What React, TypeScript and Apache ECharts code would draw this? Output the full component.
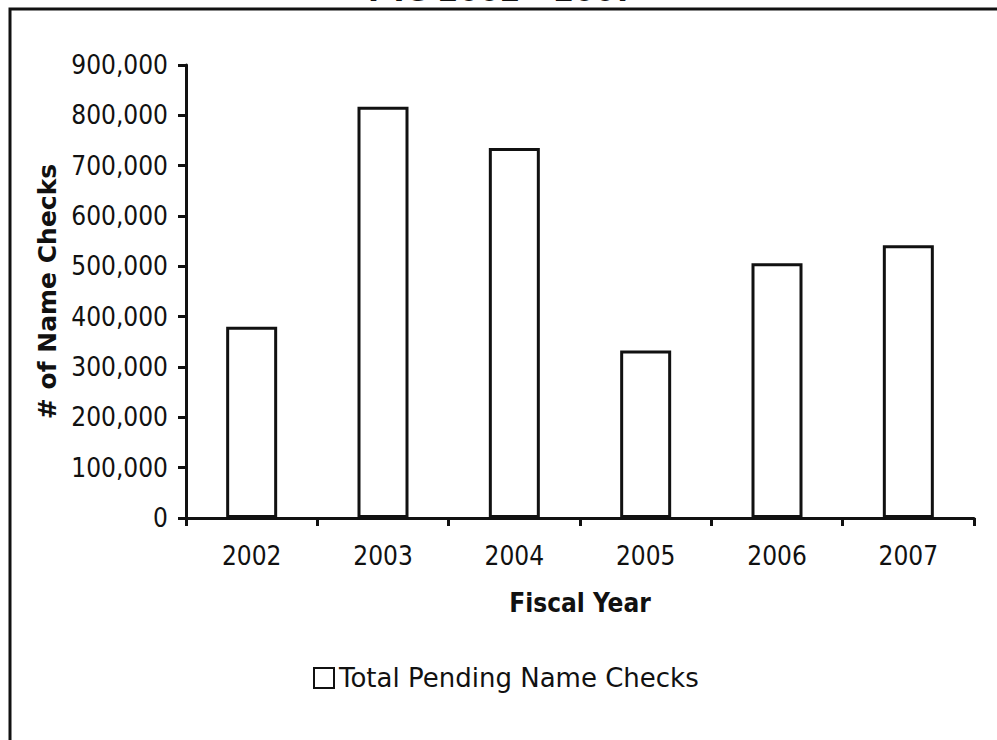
import React, { useEffect, useRef } from "react";
import * as echarts from "echarts";

// Fiscal years and pending name-check totals
const years = ["2002", "2003", "2004", "2005", "2006", "2007"];
const pendingChecks = [380000, 817000, 735000, 333000, 506000, 542000];

const yMax = 900000;
const yStep = 100000;

const seriesName = "Total Pending Name Checks";
const titleText = "FYs 2002 - 2007";
const xAxisTitle = "Fiscal Year";
const yAxisTitle = "# of Name Checks";

const NARROW = "'DejaVu Sans Condensed', 'DejaVu Sans', sans-serif";
const WIDE = "'DejaVu Sans', sans-serif";
const INK = "#111111";

export default function App() {
  const ref = useRef<HTMLDivElement>(null);

  useEffect(() => {
    if (!ref.current) return;
    const chart = echarts.init(ref.current, undefined, { renderer: "svg" });

    chart.setOption({
      animation: false,
      backgroundColor: "#ffffff",
      textStyle: { fontFamily: NARROW, color: INK },
      graphic: [
        {
          type: "polyline",
          shape: { points: [[10, 740], [10, 9], [997, 9]] },
          style: { stroke: INK, lineWidth: 3, fill: "none" },
          silent: true,
        },
        {
          type: "text",
          x: 502,
          y: -11,
          style: {
            text: titleText,
            font: `bold 33px ${NARROW}`,
            fill: INK,
            align: "center",
            verticalAlign: "middle",
          },
          silent: true,
        },
      ],
      grid: { left: 186, right: 23, top: 65, bottom: 222, containLabel: false },
      legend: {
        left: 308,
        top: 660,
        itemWidth: 20,
        itemHeight: 20,
        icon: "rect",
        textStyle: { fontFamily: WIDE, fontSize: 26, color: INK },
        data: [seriesName],
      },
      xAxis: {
        type: "category",
        data: years,
        boundaryGap: true,
        name: xAxisTitle,
        nameLocation: "middle",
        nameGap: 72,
        nameTextStyle: { fontFamily: NARROW, fontSize: 26, fontWeight: "bold", color: INK },
        axisLine: { show: true, lineStyle: { color: INK, width: 3 } },
        axisTick: { show: true, alignWithLabel: false, length: 8, lineStyle: { color: INK, width: 3 } },
        axisLabel: { fontFamily: NARROW, fontSize: 26, color: INK, margin: 25 },
        splitLine: { show: false },
      },
      yAxis: {
        type: "value",
        min: 0,
        max: yMax,
        interval: yStep,
        name: yAxisTitle,
        nameLocation: "middle",
        nameRotate: 90,
        nameGap: 126,
        nameTextStyle: { fontFamily: WIDE, fontSize: 25, fontWeight: "bold", color: INK },
        axisLine: { show: true, lineStyle: { color: INK, width: 3 } },
        axisTick: { show: true, length: 8, lineStyle: { color: INK, width: 3 } },
        axisLabel: {
          fontFamily: NARROW,
          fontSize: 26,
          color: INK,
          margin: 18,
          formatter: (v: number) => v.toLocaleString("en-US"),
        },
        splitLine: { show: false },
      },
      series: [
        {
          name: seriesName,
          type: "bar",
          data: pendingChecks,
          barWidth: 51,
          itemStyle: { color: "#ffffff", borderColor: INK, borderWidth: 3 },
        },
      ],
    });

    return () => chart.dispose();
  }, []);

  return (
    <div
      ref={ref}
      style={{ position: "fixed", left: 0, top: 0, width: 997, height: 740, background: "#ffffff" }}
    />
  );
}
